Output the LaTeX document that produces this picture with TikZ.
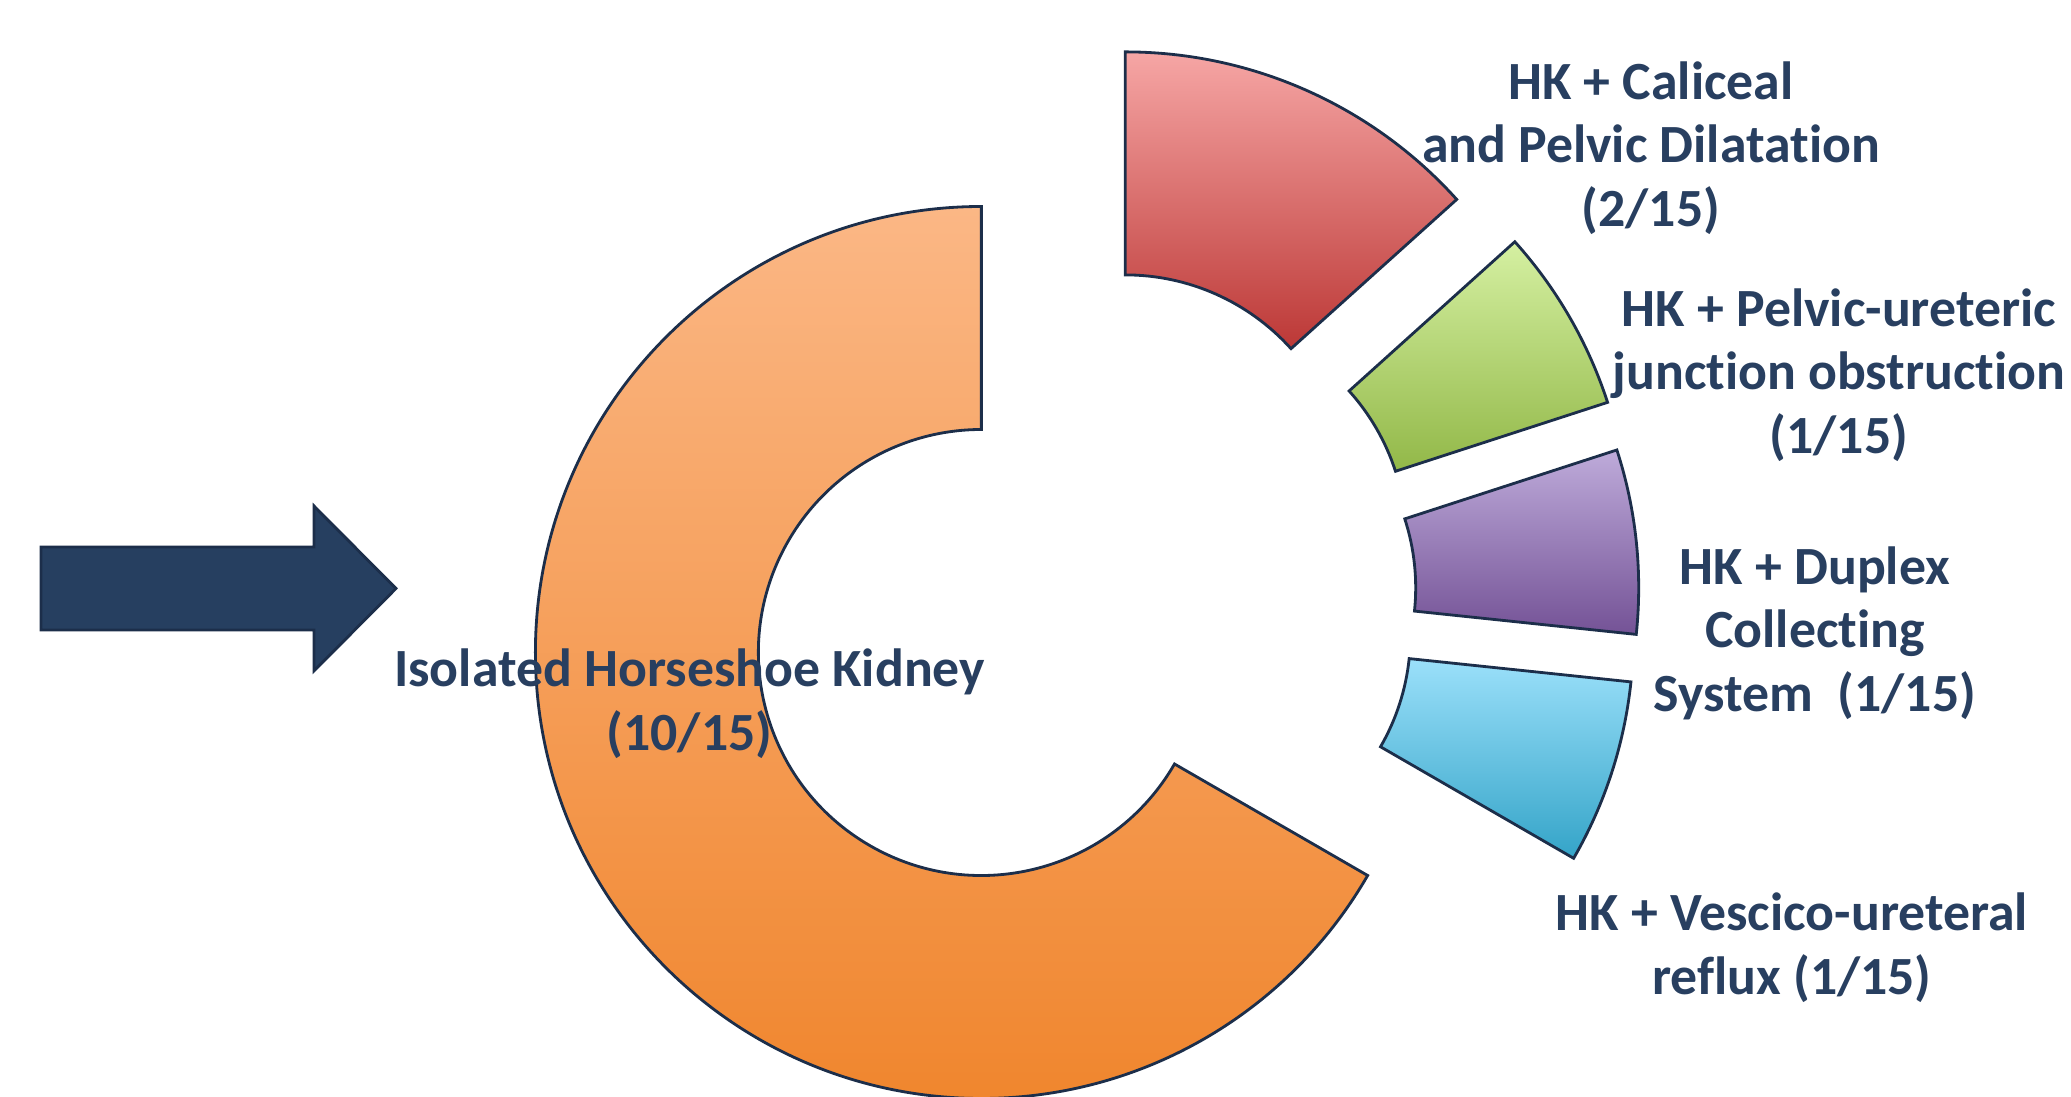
\documentclass[tikz,border=0pt]{standalone}
\usepackage{fontspec}
\setmainfont{Carlito}[RawFeature={-liga}]
\definecolor{navytext}{RGB}{40,63,96}
\definecolor{navyline}{RGB}{28,46,74}
\definecolor{arrowfill}{RGB}{38,63,96}
\definecolor{orangetop}{RGB}{251,183,133}
\definecolor{orangebot}{RGB}{240,134,46}
\definecolor{redtop}{RGB}{246,166,165}
\definecolor{redbot}{RGB}{188,56,54}
\definecolor{greentop}{RGB}{213,240,162}
\definecolor{greenbot}{RGB}{146,184,72}
\definecolor{purpletop}{RGB}{190,171,218}
\definecolor{purplebot}{RGB}{116,82,150}
\definecolor{bluetop}{RGB}{155,224,250}
\definecolor{bluebot}{RGB}{52,164,200}
\begin{document}
\begin{tikzpicture}[line join=miter,
  slice/.style={draw=navyline,line width=0.8pt},
  lbl/.style={text=navytext,font=\fontsize{15.3}{18.1}\selectfont\bfseries,align=center,inner sep=0pt}]
\useasboundingbox (0,0) rectangle (20.71,10.97);
%%
\draw [slice,top color=orangetop,bottom color=orangebot,shift={(9.814,4.445)}] (90:4.46) arc[start angle=90,end angle=330,radius=4.46] -- (330:2.23) arc[start angle=330,end angle=90,radius=2.23] -- cycle;
\draw [slice,top color=redtop,bottom color=redbot,shift={(11.253,5.991)}] (90:4.46) arc[start angle=90,end angle=42,radius=4.46] -- (42:2.23) arc[start angle=42,end angle=90,radius=2.23] -- cycle;
\draw [slice,top color=greentop,bottom color=greenbot,shift={(11.834,5.568)}] (42:4.46) arc[start angle=42,end angle=18,radius=4.46] -- (18:2.23) arc[start angle=18,end angle=42,radius=2.23] -- cycle;
\draw [slice,top color=purpletop,bottom color=purplebot,shift={(11.927,5.092)}] (18:4.46) arc[start angle=18,end angle=-6,radius=4.46] -- (-6:2.23) arc[start angle=-6,end angle=18,radius=2.23] -- cycle;
\draw [slice,top color=bluetop,bottom color=bluebot,shift={(11.874,4.617)}] (-6:4.46) arc[start angle=-6,end angle=-30,radius=4.46] -- (-30:2.23) arc[start angle=-30,end angle=-6,radius=2.23] -- cycle;
%
\draw [draw=navyline,fill=arrowfill,line width=0.8pt] (0.41,4.67) -- (3.14,4.67) -- (3.14,4.26) -- (3.96,5.085) -- (3.14,5.91) -- (3.14,5.50) -- (0.41,5.50) -- cycle;
%
\node (lbl_isolated) at (6.895,3.930) [lbl] {Isolated Horseshoe Kidney\\(10/15)};
\node (lbl_caliceal) at (16.51,9.49) [lbl] {HK + Caliceal\\and Pelvic Dilatation\\(2/15)};
\node (lbl_pelvic) at (18.39,7.22) [lbl] {HK + Pelvic-ureteric\\junction obstruction\\(1/15)};
\node (lbl_duplex) at (18.15,4.64) [lbl] {HK + Duplex\\Collecting\\System~~(1/15)};
\node (lbl_vescico) at (17.92,1.49) [lbl] {HK + Vescico-ureteral\\reflux (1/15)};
%
\end{tikzpicture}
\end{document}
